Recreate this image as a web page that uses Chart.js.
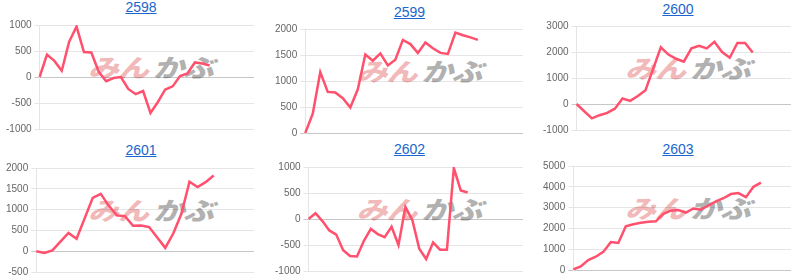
<!DOCTYPE html>
<html>
<head>
<meta charset="utf-8">
<script src="https://cdn.jsdelivr.net/npm/chart.js@4"></script>
<style>
  body { margin: 0; background: #fff; width: 800px; height: 280px; overflow: hidden; position: relative; font-family: Arial, "Liberation Sans", sans-serif; }
  .panel { position: absolute; width: 268px; height: 140px; }
  .title { position: absolute; left: 0; width: 282px; text-align: center; font-size: 14px; line-height: 15px; }
  .title a { color: #1a66cc; text-decoration: underline; }
  .mark { position: absolute; left: 88px; font: italic 900 31px "Noto Sans CJK JP"; line-height: 31px; white-space: nowrap; transform: scaleY(0.8); transform-origin: top left; z-index: 0; letter-spacing: -1px; }
  .mark .a { color: rgba(220, 70, 70, 0.38); }
  .mark .b { color: rgba(100, 100, 100, 0.5); margin-left: 5px; }
  canvas { position: absolute; left: 3px; z-index: 1; }
</style>
</head>
<body>
<script>
const codes = ["2598", "2599", "2600", "2601", "2602", "2603"];

// number of x slots on each chart (no x labels are shown)
const slotCounts = [30, 30, 29, 28, 32, 30];

const s2598 = [0, 430, 310, 120, 680, 970, 480, 470, 100, -80, -20, 0, -230, -330, -270, -690, -480, -240, -180, 20, 70, 280, 260, 220];
const s2599 = [0, 370, 1170, 790, 780, 670, 490, 840, 1510, 1390, 1530, 1300, 1410, 1790, 1710, 1540, 1740, 1630, 1540, 1520, 1930, 1880, 1840, 1790];
const s2600 = [0, -280, -550, -430, -340, -180, 210, 120, 310, 530, 1350, 2180, 1900, 1740, 1630, 2140, 2240, 2140, 2390, 2000, 1780, 2350, 2350, 1980];
const s2601 = [0, -40, 20, 230, 440, 300, 790, 1280, 1380, 1090, 860, 840, 610, 620, 580, 330, 80, 430, 900, 1670, 1540, 1660, 1820];
const s2602 = [0, 110, -40, -220, -300, -600, -710, -720, -420, -190, -290, -350, -150, -500, 230, -20, -570, -770, -450, -590, -590, 980, 550, 510];
const s2603 = [30, 170, 480, 640, 870, 1340, 1300, 2100, 2200, 2270, 2320, 2340, 2700, 2850, 2880, 2760, 2960, 2900, 3100, 3300, 3450, 3650, 3700, 3500, 4000, 4200];
const series = [s2598, s2599, s2600, s2601, s2602, s2603];

const ticks2598 = [-1000, -500, 0, 500, 1000];
const ticks2599 = [0, 500, 1000, 1500, 2000];
const ticks2600 = [-1000, 0, 1000, 2000, 3000];
const ticks2601 = [-500, 0, 500, 1000, 1500, 2000];
const ticks2602 = [-1000, -500, 0, 500, 1000];
const ticks2603 = [0, 1000, 2000, 3000, 4000, 5000];
const tickSets = [ticks2598, ticks2599, ticks2600, ticks2601, ticks2602, ticks2603];

// panel placement: left edge, title top, canvas top
const panelLeft = [0, 268.5, 537, 0, 268.5, 537];
const titleTop = [0, 4.5, 1.5, 143, 142, 142];
const canvasTop = [16, 20, 17, 159, 158, 157];

codes.forEach((code, i) => {
  const panel = document.createElement("div");
  panel.className = "panel";
  panel.style.left = panelLeft[i] + "px";
  panel.style.top = "0px";
  document.body.appendChild(panel);

  const title = document.createElement("div");
  title.className = "title";
  title.style.top = titleTop[i] + "px";
  title.innerHTML = '<a href="#">' + code + "</a>";
  panel.appendChild(title);

  const mark = document.createElement("div");
  mark.className = "mark";
  mark.style.top = (canvasTop[i] + 38) + "px";
  mark.innerHTML = '<span class="a">みん</span><span class="b">かぶ</span>';
  panel.appendChild(mark);

  const canvas = document.createElement("canvas");
  canvas.style.top = canvasTop[i] + "px";
  canvas.style.width = "251px";
  canvas.style.height = "122px";
  canvas.width = 251;
  canvas.height = 122;
  panel.appendChild(canvas);

  const t = tickSets[i];
  const labels = [];
  for (let k = 0; k < slotCounts[i]; k++) labels.push("");

  new Chart(canvas.getContext("2d"), {
    type: "line",
    data: {
      labels: labels,
      datasets: [{
        data: series[i],
        borderColor: "rgb(255, 80, 110)",
        borderWidth: 2.5,
        pointRadius: 0,
        tension: 0,
        fill: false
      }]
    },
    options: {
      responsive: false,
      animation: false,
      plugins: { legend: { display: false }, tooltip: { enabled: false } },
      layout: { padding: 0 },
      scales: {
        x: { display: false },
        y: {
          min: t[0],
          max: t[t.length - 1],
          ticks: {
            stepSize: t[1] - t[0],
            color: "#666",
            padding: 3,
            font: { family: "Arial, 'Liberation Sans'", size: 10 },
            callback: (v) => String(v)
          },
          grid: {
            tickLength: 5,
            color: (c) => (c.tick && c.tick.value === 0 ? "rgba(0,0,0,0.22)" : "rgba(0,0,0,0.1)")
          },
          border: { color: "rgba(0,0,0,0.1)" }
        }
      }
    }
  });
});
</script>
</body>
</html>
